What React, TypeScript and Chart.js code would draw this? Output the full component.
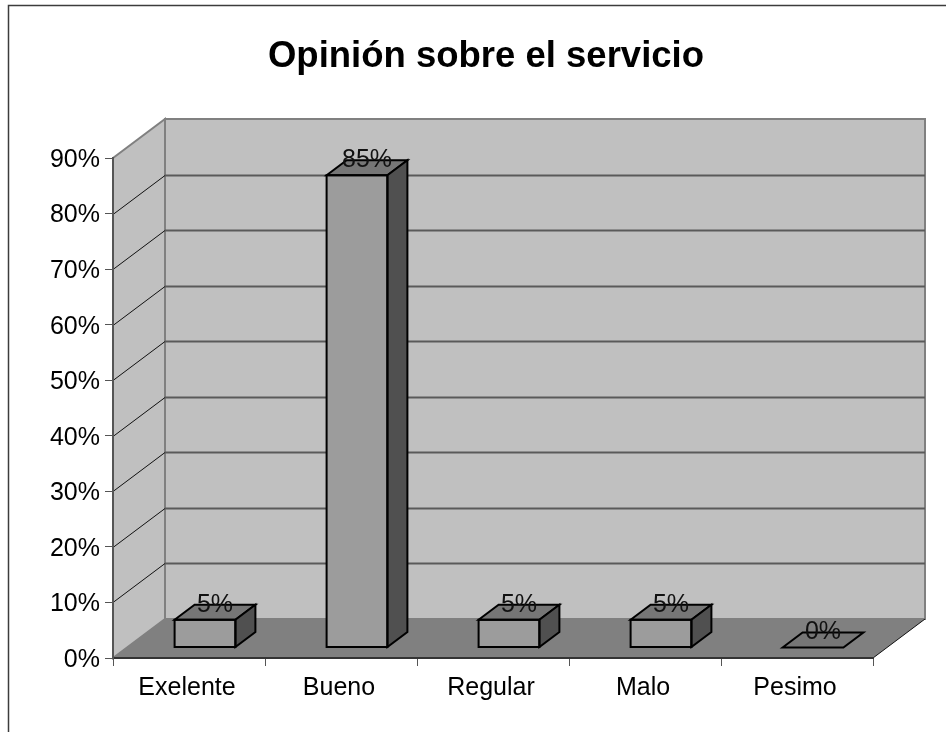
import React, { useEffect, useRef } from "react";
import { Chart, registerables } from "chart.js";

Chart.register(...registerables);

const categories = ["Exelente", "Bueno", "Regular", "Malo", "Pesimo"];
const shares = [5, 85, 5, 5, 0];
const axisTicks = [0, 10, 20, 30, 40, 50, 60, 70, 80, 90];

const FONT = "'Liberation Sans', Arial, sans-serif";
const WALL_DEPTH = { x: 52, y: -39 };
const BAR_SHIFT = { x: 16, y: -10.5 };
const BAR_DEPTH = { x: 20, y: -15 };

function poly(ctx: CanvasRenderingContext2D, pts: number[][], fill: string | null, stroke: string | null, width = 1) {
  ctx.beginPath();
  pts.forEach(([x, y], i) => (i ? ctx.lineTo(x, y) : ctx.moveTo(x, y)));
  ctx.closePath();
  if (fill) {
    ctx.fillStyle = fill;
    ctx.fill();
  }
  if (stroke) {
    ctx.strokeStyle = stroke;
    ctx.lineWidth = width;
    ctx.stroke();
  }
}

// Frame, side wall, back wall, floor and the gridlines that run across them.
const roomPlugin = {
  id: "room",
  afterLayout(chart: any) {
    // The heading is centred a little left of the plot, over the room's full width.
    chart.titleBlock.left = 99;
    chart.titleBlock.right = chart.chartArea.right;
  },
  beforeDraw(chart: any) {
    const { ctx, chartArea: a, scales } = chart;
    const d = WALL_DEPTH;
    ctx.save();
    ctx.fillStyle = "#ffffff";
    ctx.fillRect(0, 0, chart.width, chart.height);
    ctx.strokeStyle = "#3c3c3c";
    ctx.lineWidth = 1.5;
    ctx.beginPath();
    ctx.moveTo(8.5, chart.height);
    ctx.lineTo(8.5, 5.5);
    ctx.lineTo(chart.width, 5.5);
    ctx.stroke();

    poly(ctx, [[a.left + d.x, a.top + d.y], [a.right + d.x, a.top + d.y], [a.right + d.x, a.bottom + d.y], [a.left + d.x, a.bottom + d.y]], "#c0c0c0", "#808080", 2);
    poly(ctx, [[a.left, a.top], [a.left + d.x, a.top + d.y], [a.left + d.x, a.bottom + d.y], [a.left, a.bottom]], "#c0c0c0", "#808080", 2);
    poly(ctx, [[a.left, a.bottom], [a.left + d.x, a.bottom + d.y], [a.right + d.x, a.bottom + d.y], [a.right, a.bottom]], "#808080", null);

    axisTicks.slice(1, -1).forEach((v) => {
      const y = Math.round(scales.y.getPixelForValue(v)) + 0.5;
      ctx.strokeStyle = "#111111";
      ctx.lineWidth = 1;
      ctx.beginPath();
      ctx.moveTo(a.left, y);
      ctx.lineTo(a.left + d.x, y + d.y);
      ctx.stroke();
      ctx.strokeStyle = "#5a5a5a";
      ctx.lineWidth = 2;
      ctx.beginPath();
      ctx.moveTo(a.left + d.x, y + d.y);
      ctx.lineTo(a.right + d.x, y + d.y);
      ctx.stroke();
    });

    ctx.strokeStyle = "#111111";
    ctx.lineWidth = 1;
    ctx.beginPath();
    ctx.moveTo(a.right, a.bottom);
    ctx.lineTo(a.right + d.x, a.bottom + d.y);
    ctx.stroke();
    ctx.restore();
  },
};

// Moves the bars into the room and adds their outlines, top and side faces.
const boxPlugin = {
  id: "boxes",
  beforeDatasetDraw(chart: any) {
    chart.ctx.save();
    chart.ctx.translate(BAR_SHIFT.x, BAR_SHIFT.y);
  },
  afterDatasetDraw(chart: any, args: any) {
    const { ctx } = chart;
    const d = BAR_DEPTH;
    chart.getDatasetMeta(args.index).data.forEach((bar: any) => {
      const { x, y, base, width } = bar.getProps(["x", "y", "base", "width"]);
      const l = x - width / 2;
      const r = x + width / 2;
      ctx.lineJoin = "miter";
      poly(ctx, [[l, y], [l + d.x, y + d.y], [r + d.x, y + d.y], [r, y]], "#767676", "#000000", 2);
      if (base - y > 0) {
        poly(ctx, [[r, y], [r + d.x, y + d.y], [r + d.x, base + d.y], [r, base]], "#505050", "#000000", 2);
        poly(ctx, [[l, y], [r, y], [r, base], [l, base]], null, "#000000", 2);
      }
    });
    ctx.restore();
  },
  afterDatasetsDraw(chart: any) {
    const { ctx } = chart;
    ctx.save();
    ctx.font = `25px ${FONT}`;
    ctx.fillStyle = "#111111";
    ctx.textAlign = "center";
    ctx.textBaseline = "middle";
    chart.getDatasetMeta(0).data.forEach((bar: any, i: number) => {
      ctx.fillText(`${shares[i]}%`, bar.x + 26, bar.y - 25.5);
    });
    ctx.restore();
  },
};

export default function App() {
  const ref = useRef<HTMLCanvasElement>(null);

  useEffect(() => {
    const chart = new Chart(ref.current as HTMLCanvasElement, {
      type: "bar",
      data: {
        labels: categories,
        datasets: [
          {
            data: shares,
            backgroundColor: "#9c9c9c",
            borderWidth: 0,
            barPercentage: 0.4,
            categoryPercentage: 1,
            clip: false,
          } as any,
        ],
      },
      options: {
        animation: false,
        responsive: false,
        layout: { autoPadding: false, padding: { left: 0, right: 73, top: 0, bottom: 0 } },
        plugins: {
          legend: { display: false },
          tooltip: { enabled: false },
          title: {
            display: true,
            text: "Opinión sobre el servicio",
            color: "#000000",
            font: { family: FONT, size: 36.5, weight: "bold", lineHeight: 1.2 },
            padding: { top: 35, bottom: 79.2 },
          },
        },
        scales: {
          x: {
            afterFit: (s: any) => {
              s.height = 74;
            },
            grid: { drawOnChartArea: false, drawTicks: true, tickLength: 8, color: "#555555", offset: true },
            border: { display: true, color: "#333333", width: 2 },
            ticks: { color: "#000000", font: { family: FONT, size: 25 }, padding: 7, maxRotation: 0, labelOffset: -2 },
          },
          y: {
            min: 0,
            max: 90,
            afterFit: (s: any) => {
              s.width = 113;
            },
            afterBuildTicks: (s: any) => {
              s.ticks = axisTicks.map((value) => ({ value }));
            },
            grid: { drawOnChartArea: false, drawTicks: true, tickLength: 8, color: "#555555" },
            border: { display: true, color: "#555555", width: 2 },
            ticks: { color: "#000000", font: { family: FONT, size: 25 }, padding: 5, labelOffset: 2, callback: (v: any) => `${v}%` },
          },
        },
      },
      plugins: [roomPlugin, boxPlugin],
    });
    return () => chart.destroy();
  }, []);

  return (
    <canvas
      ref={ref}
      width={946}
      height={732}
      style={{ position: "fixed", left: 0, top: 0, width: 946, height: 732, display: "block" }}
    />
  );
}
